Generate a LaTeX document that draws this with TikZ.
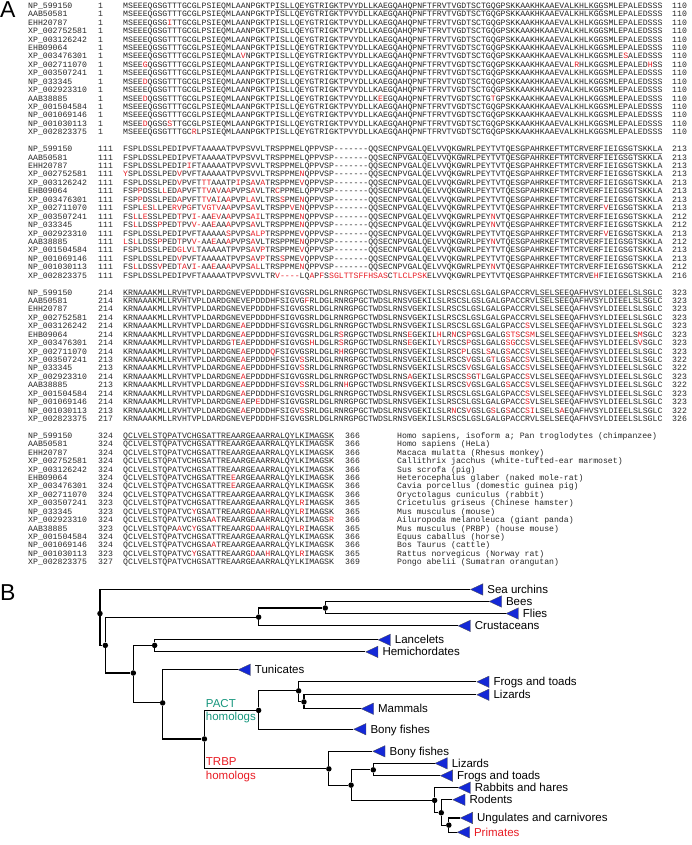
\documentclass[tikz,border=0pt]{standalone}
\usepackage{fontspec}
\setmainfont{Liberation Sans}
\setmonofont{Liberation Mono}
\usepackage{tikz}
\usetikzlibrary{positioning, shapes.geometric}
\definecolor{mutred}{RGB}{232,28,36}
\definecolor{seqgray}{RGB}{38,38,38}
\definecolor{cladeblue}{RGB}{20,40,215}
\definecolor{pactgreen}{RGB}{22,150,125}
\tikzset{
    seqtxt/.style={anchor=base west, inner sep=0pt, text=seqgray, font=\ttfamily\fontsize{8.17}{9}\selectfont},
    dsrbd/.style={draw=black!45, line width=0.6pt},
    panellbl/.style={anchor=base west, inner sep=0pt, font=\fontsize{23}{23}\selectfont},
    branch/.style={draw=black, line width=1.1pt},
    cdot/.style={circle, fill=black, inner sep=0pt, minimum size=5.5pt},
    clade/.style={isosceles triangle, isosceles triangle apex angle=50, shape border rotate=180, anchor=apex, fill=cladeblue, draw=black!70, line width=0.3pt, inner sep=0pt, minimum height=11.5pt, minimum width=11.5pt},
    cladelbl/.style={anchor=west, inner sep=0pt, text height=9.9pt, text depth=2.3pt, font=\fontsize{11.5}{12}\selectfont},
    homlbl/.style={cladelbl, anchor=west}
}
\newcommand\rd[1]{\textcolor{mutred}{#1}}
\newcommand\gapA{-{}-{}-{}-{}-{}-{}-}
\newcommand\consA{MSEEEQGSGTTTGCGLPSIEQMLAANPGKTPISLLQEYGTRIGKTPVYDLLKAEGQAHQPNFTFRVTVGDTSCTGQGPSKKAAKHKAAEVALKHLKGGSMLEPALEDSSS}
\newcommand\consBl{FSPLDSSLPEDIPVFTAAAAATPVPSVVLTRSPPMELQPPVSP}
\newcommand\consBr{QQSECNPVGALQELVVQKGWRLPEYTVTQESGPAHRKEFTMTCRVERFIEIGSGTSKKLA}
\newcommand\consBrN{QQSECNPVGALQELVVQKGWRLPEY\rd{N}VTQESGPAHRKEFTMTCRVERFIEIGSGTSKKLA}
\newcommand\consBrV{QQSECNPVGALQELVVQKGWRLPEYTVTQESGPAHRKEFTMTCRVERF\rd{V}EIGSGTSKKLA}
\newcommand\consC{KRNAAAKMLLRVHTVPLDARDGNEVEPDDDHFSIGVGSRLDGLRNRGPGCTWDSLRNSVGEKILSLRSCSLGSLGALGPACCRVLSELSEEQAFHVSYLDIEELSLSGLC}
\newcommand\consD{QCLVELSTQPATVCHGSATTREAARGEAARRALQYLKIMAGSK}
% block, row, accession, first, residues, last
\newcommand\alnrow[6]{%
  \pgfmathsetmacro\rowy{5.7+8.43*(17*#1+#2)+2.7}
  \node[seqtxt] (n#1r#2) at (28,\rowy) {#3};
  \node[seqtxt] (s#1r#2) at (98,\rowy) {#4};
  \node[seqtxt] (q#1r#2) at (123,\rowy) {#5};
  \ifnum#1=3 \node[seqtxt] (e#1r#2) at (345,\rowy) {#6};
  \else \node[seqtxt] (e#1r#2) at (672,\rowy) {#6};\fi}
\newcommand\sprow[2]{%
  \pgfmathsetmacro\rowy{5.7+8.43*(51+#1)+2.7}
  \node[seqtxt] (sp#1) at (397,\rowy) {#2};}

\begin{document}
\begin{tikzpicture}[x=1pt, y=-1pt]
    \useasboundingbox (0,0) rectangle (691,845);
    \node[panellbl] (lblA) at (0,18) {A};
    \node[panellbl] (lblB) at (0,600) {B};

    % residues 1-110
    \alnrow{0}{0}{NP\_599150}{1}{\consA}{110}
    \alnrow{0}{1}{AAB50581}{1}{\consA}{110}
    \alnrow{0}{2}{EHH20787}{1}{MSEEEQGSG\rd{I}TTGCGLPSIEQMLAANPGKTPISLLQEYGTRIGKTPVYDLLKAEGQAHQPNFTFRVTVGDTSCTGQGPSKKAAKHKAAEVALKHLKGGSMLEPALEDSSS}{110}
    \alnrow{0}{3}{XP\_002752581}{1}{\consA}{110}
    \alnrow{0}{4}{XP\_003126242}{1}{\consA}{110}
    \alnrow{0}{5}{EHB09064}{1}{\consA}{110}
    \alnrow{0}{6}{XP\_003476301}{1}{MSEEEQGSGTTTGCGLPSIEQMLA\rd{V}NPGKTPISLLQEYGTRIGKTPVYDLLKAEGQAHQPNFTFRVTVGDTSCTGQGPSKKAAKHKAAEVALKHLKGGSMLE\rd{S}ALEDSSS}{110}
    \alnrow{0}{7}{XP\_002711070}{1}{MSEE\rd{G}QGSGTTTGCGLPSIEQMLAANPGKTPISLLQEYGTRIGKTPVYDLLKAEGQAHQPNFTFRVTVGDTSCTGQGPSKKAAKHKAAEVAL\rd{R}HLKGGSMLEPALED\rd{H}SS}{110}
    \alnrow{0}{8}{XP\_003507241}{1}{\consA}{110}
    \alnrow{0}{9}{NP\_033345}{1}{MSEE\rd{D}QGSGTTTGCGLPSIEQMLAANPGKTPISLLQEYGTRIGKTPVYDLLKAEGQAHQPNFTFRVTVGDTSCTGQGPSKKAAKHKAAEVALKHLKGGSMLEPALEDSSS}{110}
    \alnrow{0}{10}{XP\_002923310}{1}{\consA}{110}
    \alnrow{0}{11}{AAB38885}{1}{MSEE\rd{D}QGSGTTTGCGLPSIEQMLAANPGKTPISLLQEYGTRIGKTPVYDLLK\rd{E}EGQAHQPNFTFRVTVGDTSCTG\rd{T}GPSKKAAKHKAAEVALKHLKGGSMLEPALEDSSS}{110}
    \alnrow{0}{12}{XP\_001504584}{1}{\consA}{110}
    \alnrow{0}{13}{NP\_001069146}{1}{\consA}{110}
    \alnrow{0}{14}{NP\_001030113}{1}{MSEE\rd{D}QGSG\rd{S}TTGCGLPSIEQMLAANPGKTPISLLQEYGTRIGKTPVYDLLKAEGQAHQPNFTFRVTVGDTSCTGQGPSKKAAKHKAAEVALKHLKGGSMLEPALEDSSS}{110}
    \alnrow{0}{15}{XP\_002823375}{1}{MSEEEQGSGTTTGC\rd{R}LPSIEQMLAANPGKTPISLLQEYGTRIGKTPVYDLLKAEGQAHQPNFTFRVTVGDTSCTGQGPSKKAAKHKAAEVALKHLKGGSMLEPALEDSSS}{110}

    % residues 111-216
    \alnrow{1}{0}{NP\_599150}{111}{\consBl\gapA\consBr}{213}
    \alnrow{1}{1}{AAB50581}{111}{\consBl\gapA\consBr}{213}
    \alnrow{1}{2}{EHH20787}{111}{FSPLDSSLPEDIP\rd{I}FTAAAAATPVPSVVLTRSPPMELQPPVSP\gapA\consBr}{213}
    \alnrow{1}{3}{XP\_002752581}{111}{\rd{Y}SPLDSSLPED\rd{V}PVFTAAAAATPVPSVVLTRSPPME\rd{N}QPPVSP\gapA\consBr}{213}
    \alnrow{1}{4}{XP\_003126242}{111}{FSPLDSSLPED\rd{V}PVFT\rd{TT}AAATP\rd{I}PS\rd{A}V\rd{A}TRSPPME\rd{V}QPPVSP\gapA\consBr}{213}
    \alnrow{1}{5}{EHB09064}{111}{FSP\rd{P}DSSL\rd{L}ED\rd{A}PVFT\rd{TV}A\rd{V}A\rd{A}PVPS\rd{A}VLTR\rd{C}PPMELQPPVSP\gapA\consBr}{213}
    \alnrow{1}{6}{XP\_003476301}{111}{FSP\rd{P}DSSLPED\rd{A}PVFT\rd{TV}A\rd{I}A\rd{A}PVP\rd{LA}VLTRS\rd{S}PME\rd{N}QPPVSP\gapA\consBr}{213}
    \alnrow{1}{7}{XP\_002711070}{111}{FSPL\rd{E}S\rd{L}LPE\rd{RV}P\rd{G}FT\rd{VGTV}A\rd{A}PVPS\rd{A}VLTRSPP\rd{V}E\rd{N}QPPVSP\gapA\consBrV}{213}
    \alnrow{1}{8}{XP\_003507241}{111}{FS\rd{L}L\rd{E}SSLPED\rd{T}PV\rd{I-}AA\rd{EV}A\rd{A}PVPS\rd{AI}LTRSPPME\rd{N}QPPVSP\gapA\consBrN}{212}
    \alnrow{1}{9}{NP\_033345}{111}{FS\rd{L}LDSS\rd{P}PED\rd{T}PV\rd{V-}AA\rd{E}AA\rd{A}PVPS\rd{A}VLTRSPPME\rd{N}QPPVSP\gapA\consBrN}{212}
    \alnrow{1}{10}{XP\_002923310}{111}{FSPLDSSLPEDIPVFTAAAAA\rd{S}PVPS\rd{ALP}TRSPPME\rd{V}QPPVSP\gapA\consBrV}{213}
    \alnrow{1}{11}{AAB38885}{111}{\rd{L}S\rd{L}LDSS\rd{P}PED\rd{T}PV\rd{V-}AA\rd{E}AA\rd{A}PVPS\rd{A}VLTRSPPME\rd{N}QPPVSP\gapA\consBrN}{212}
    \alnrow{1}{12}{XP\_001504584}{111}{FSPLDSSLPED\rd{GL}V\rd{L}TAAAAATPVPS\rd{A}V\rd{P}TRSPPME\rd{V}QPPVSP\gapA\consBr}{213}
    \alnrow{1}{13}{NP\_001069146}{111}{FSPLDSSLPED\rd{V}PVFTAAAAATPVPS\rd{A}V\rd{P}TRS\rd{S}PME\rd{V}QPPVSP\gapA\consBr}{213}
    \alnrow{1}{14}{NP\_001030113}{111}{FS\rd{L}LDSS\rd{V}PED\rd{TA}V\rd{I-}AA\rd{E}AA\rd{A}PVPS\rd{AL}LTRSPPME\rd{N}QPPVSP\gapA\consBrN}{212}
    \alnrow{1}{15}{XP\_002823375}{111}{FSPLDSSLPEDIPVFTAAAAATPVPSVVLTR\rd{V-{}-{}-{}-}LQ\rd{A}P\rd{F}S\rd{SGLTTSFFHSAS}C\rd{TLCLPSK}ELVVQKGWRLPEYTVTQESGPAHRKEFTMTCRVE\rd{H}FIEIGSGTSKKLA}{216}

    % residues 214-326
    \alnrow{2}{0}{NP\_599150}{214}{\consC}{323}
    \alnrow{2}{1}{AAB50581}{214}{KRNAAAKMLLRVHTVPLDARDGNEVEPDDDHFSIGVG\rd{F}RLDGLRNRGPGCTWDSLRNSVGEKILSLRSCSLGSLGALGPACCRVLSELSEEQAFHVSYLDIEELSLSGLC}{323}
    \alnrow{2}{2}{EHH20787}{214}{\consC}{323}
    \alnrow{2}{3}{XP\_002752581}{214}{\consC}{323}
    \alnrow{2}{4}{XP\_003126242}{214}{KRNAAAKMLLRVHTVPLDARDGNE\rd{A}EPDDDHFSIGVGSRLDGLRNRGPGCTWDSLRNSVGEKILSLRSCSLGSLGALGPACC\rd{S}VLSELSEEQAFHVSYLDIEELSLSGLC}{323}
    \alnrow{2}{5}{EHB09064}{214}{KRNAAAKMLLRVHTVPLDARDGNE\rd{A}EPDDDHFSIGVGSRLDGLR\rd{S}RGPGCTWDSLRNS\rd{E}GEKIL\rd{H}LR\rd{N}CS\rd{P}GSLGALG\rd{STS}C\rd{SM}LSELSEEQAFHVSYLDIEELS\rd{M}SGLC}{323}
    \alnrow{2}{6}{XP\_003476301}{214}{KRNAAAKMLLRVHTVPLDARDG\rd{T}E\rd{A}EPDDDHFSIGVGS\rd{H}LDGLR\rd{S}RGPGCTWDSLRNS\rd{E}GEKIL\rd{Y}LRSCS\rd{P}GSLGALG\rd{SG}CC\rd{S}VLSELSEEQAFHVSYLDIEELS\rd{V}SGLC}{323}
    \alnrow{2}{7}{XP\_002711070}{214}{KRNAAAKMLLRVHTVPLDARDGNE\rd{A}EPDDD\rd{Q}FSIGVGSRLDGLR\rd{H}RGPGCTWDSLRNSVGEKILSLRSC\rd{P}LGSL\rd{S}ALG\rd{S}ACC\rd{S}VLSELSEEQAFHVSYLDIEELSLSGLC}{323}
    \alnrow{2}{8}{XP\_003507241}{213}{KRNAAAKMLLRVHTVPLDARDGNE\rd{A}EPDDDHFSIGV\rd{S}SRLDGLRNRGPGCTWDSLRNSVGEKILSLRSCS\rd{V}GSLG\rd{T}LG\rd{S}ACC\rd{S}VLSELSEEQAFHVSYLDIEELSLSGLC}{322}
    \alnrow{2}{9}{NP\_033345}{213}{KRNAAAKMLLRVHTVPLDARDGNE\rd{A}EPDDDHFSIGV\rd{S}SRLDGLRNRGPGCTWDSLRNSVGEKILSLRSCS\rd{V}GSLGALG\rd{S}ACC\rd{S}VLSELSEEQAFHVSYLDIEELSLSGLC}{322}
    \alnrow{2}{10}{XP\_002923310}{214}{KRNAAAKMLLRVHTVPLDARDGNE\rd{A}EPDDDHFSIGVGSRLDGLRNRGPGCTWDSLRNS\rd{A}GEKILSLRSCS\rd{S}G\rd{T}LGALGPACC\rd{S}VLSELSEEQAFHVSYLDIEELSLSGLC}{323}
    \alnrow{2}{11}{AAB38885}{213}{KRNAAAKMLLRVHTVPLDARDGNE\rd{A}EPDDDHFSIGV\rd{S}SRLDGLRN\rd{H}GPGCTWDSLRNSVGEKILSLRSCS\rd{V}GSLGALG\rd{S}ACC\rd{S}VLSELSEEQAFHVSYLDIEELSLSGLC}{322}
    \alnrow{2}{12}{XP\_001504584}{214}{KRNAAAKMLLRVHTVPLDARDGNE\rd{A}EPDDDHFSIGVGSRLDGLRNRGPGCTWDSLRNSVGEKILSLRSCSLGSLGALGPACC\rd{S}VLSELSEEQAFHVSYLDIEELSLSGLC}{323}
    \alnrow{2}{13}{NP\_001069146}{214}{KRNAAAKMLLRVHTVPLDARDGNE\rd{A}EP\rd{E}DDHFSIGVGSRLDGLRNRGPGCTWDSLRNSVGEKILSLRSCSLGSLGALGPACC\rd{S}VLSELSEEQAFHVSYLDIEELSLSGLC}{323}
    \alnrow{2}{14}{NP\_001030113}{213}{KRNAAAKMLLRVHTVPLDARDGNE\rd{A}EPDDDHFSIGV\rd{S}SRLDGLRNRGPGCTWDSLRNSVGEKILSLR\rd{N}CS\rd{V}GSLG\rd{S}LG\rd{S}ACC\rd{SI}LSELS\rd{A}EQAFHVSYLDIEELSLSGLC}{322}
    \alnrow{2}{15}{XP\_002823375}{217}{\consC}{326}

    % residues 323-369
    \alnrow{3}{0}{NP\_599150}{324}{\consD}{366}
    \alnrow{3}{1}{AAB50581}{324}{\consD}{366}
    \alnrow{3}{2}{EHH20787}{324}{\consD}{366}
    \alnrow{3}{3}{XP\_002752581}{324}{\consD}{366}
    \alnrow{3}{4}{XP\_003126242}{324}{\consD}{366}
    \alnrow{3}{5}{EHB09064}{324}{QCLVELSTQPATVCHGSATTRE\rd{E}ARGEAARRALQYLKIMAGSK}{366}
    \alnrow{3}{6}{XP\_003476301}{324}{QCLVELSTQPATVCHGSATTRE\rd{E}ARGEAARRALQYLKIMAGSK}{366}
    \alnrow{3}{7}{XP\_002711070}{324}{\consD}{366}
    \alnrow{3}{8}{XP\_003507241}{323}{QCLVELSTQPATVCHGSATTREAARGEAARRALQYL\rd{R}IMAGSK}{365}
    \alnrow{3}{9}{NP\_033345}{323}{QCLVELSTQPATVC\rd{Y}GSATTREAARG\rd{D}AA\rd{H}RALQYL\rd{R}IMAGSK}{365}
    \alnrow{3}{10}{XP\_002923310}{324}{QCLVELSTQPATVCHGSA\rd{A}TREAARGEAARRALQYLKIMAGS\rd{R}}{366}
    \alnrow{3}{11}{AAB38885}{323}{QCLVELSTQPA\rd{A}VC\rd{Y}GSATTREAARG\rd{D}AA\rd{H}RALQYL\rd{R}IMAGSK}{365}
    \alnrow{3}{12}{XP\_001504584}{324}{\consD}{366}
    \alnrow{3}{13}{NP\_001069146}{324}{QCLVELSTQPATVCHGSA\rd{A}TREAARGEAARRALQYLKIMAGSK}{366}
    \alnrow{3}{14}{NP\_001030113}{323}{QCLVELSTQPATVC\rd{Y}GSATTREAARG\rd{D}AA\rd{H}RALQYL\rd{R}IMAGSK}{365}
    \alnrow{3}{15}{XP\_002823375}{327}{\consD}{369}

    \sprow{0}{Homo sapiens, isoform a; Pan troglodytes (chimpanzee)}
    \sprow{1}{Homo sapiens (HeLa)}
    \sprow{2}{Macaca mulatta (Rhesus monkey)}
    \sprow{3}{Callithrix jacchus (white-tufted-ear marmoset)}
    \sprow{4}{Sus scrofa (pig)}
    \sprow{5}{Heterocephalus glaber (naked mole-rat)}
    \sprow{6}{Cavia porcellus (domestic guinea pig)}
    \sprow{7}{Oryctolagus cuniculus (rabbit)}
    \sprow{8}{Cricetulus griseus (Chinese hamster)}
    \sprow{9}{Mus musculus (mouse)}
    \sprow{10}{Ailuropoda melanoleuca (giant panda)}
    \sprow{11}{Mus musculus (PRBP) (house mouse)}
    \sprow{12}{Equus caballus (horse)}
    \sprow{13}{Bos Taurus (cattle)}
    \sprow{14}{Rattus norvegicus (Norway rat)}
    \sprow{15}{Pongo abelii (Sumatran orangutan)}

    % dsRBD underlines on the reference row
    \draw[dsrbd] (274.9,9.8) -- (603.2,9.8);
    \draw[dsrbd] (392.5,153.1) -- (662,153.1);
    \draw[dsrbd] (123,296.4) -- (186.7,296.4);
    \draw[dsrbd] (534.6,296.4) -- (662,296.4);
    \draw[dsrbd] (123,439.7) -- (333.7,439.7);

    % tree
    \begin{scope}[shift={(0,556)}, x=0.4444pt, y=-0.325pt]
        \node[cdot] (root) at (225,177) {};
        \node[cdot] (bilat) at (237,275) {};
        \node[cdot] (arthr) at (582,188) {};
        \node[cdot] (insect) at (732,160) {};
        \node[cdot] (chord) at (300,360) {};
        \node[cdot] (lanhem) at (348,275) {};
        \node[cdot] (olfac) at (366,452) {};
        \node[cdot] (vert) at (460,563) {};
        \node[cdot] (pact) at (582,475) {};
        \node[cdot] (tetP) at (672,415) {};
        \node[cdot] (amnP) at (684,449) {};
        \node[cdot] (trbp) at (740,655) {};
        \node[cdot] (tetT) at (790,705) {};
        \node[cdot] (ampT) at (840,658) {};
        \node[cdot] (mamT) at (978,752) {};
        \node[cdot] (rodT) at (993,790) {};
        \node[cdot] (priT) at (1010,828) {};

        \node[clade] (seaurch) at (1058,103) {};
        \node[clade] (bees) at (1100,140) {};
        \node[clade] (flies) at (1138,177) {};
        \node[clade] (crust) at (1030,215) {};
        \node[clade] (lancel) at (850,258) {};
        \node[clade] (hemich) at (822,295) {};
        \node[clade] (tunic) at (535,350) {};
        \node[clade] (frogP) at (1072,387) {};
        \node[clade] (lizP) at (1072,427) {};
        \node[clade] (mammP) at (812,470) {};
        \node[clade] (fishP) at (795,533) {};
        \node[clade] (fishT) at (838,601) {};
        \node[clade] (lizT) at (978,638) {};
        \node[clade] (frogT) at (990,676) {};
        \node[clade] (rabbT) at (1030,713) {};
        \node[clade] (rodT2) at (1018,750) {};
        \node[clade] (ungT) at (1035,806) {};
        \node[clade] (primT) at (1028,850) {};

        \node[cladelbl, right=17pt of seaurch.apex] {Sea urchins};
        \node[cladelbl, right=17pt of bees.apex] {Bees};
        \node[cladelbl, right=17pt of flies.apex] {Flies};
        \node[cladelbl, right=17pt of crust.apex] {Crustaceans};
        \node[cladelbl, right=17pt of lancel.apex] {Lancelets};
        \node[cladelbl, right=17pt of hemich.apex] {Hemichordates};
        \node[cladelbl, right=17pt of tunic.apex] {Tunicates};
        \node[cladelbl, right=17pt of frogP.apex] {Frogs and toads};
        \node[cladelbl, right=17pt of lizP.apex] {Lizards};
        \node[cladelbl, right=17pt of mammP.apex] {Mammals};
        \node[cladelbl, right=17pt of fishP.apex] {Bony fishes};
        \node[cladelbl, right=17pt of fishT.apex] {Bony fishes};
        \node[cladelbl, right=17pt of lizT.apex] {Lizards};
        \node[cladelbl, right=17pt of frogT.apex] {Frogs and toads};
        \node[cladelbl, right=17pt of rabbT.apex] {Rabbits and hares};
        \node[cladelbl, right=17pt of rodT2.apex] {Rodents};
        \node[cladelbl, right=17pt of ungT.apex] {Ungulates and carnivores};
        \node[cladelbl, right=17pt of primT.apex, text=mutred] {Primates};

        \node[homlbl, text=pactgreen] (pactA) at (463,453) {PACT};
        \node[homlbl, text=pactgreen] (pactB) at (463,495) {homologs};
        \node[homlbl, text=mutred] (trbpA) at (463,632) {TRBP};
        \node[homlbl, text=mutred] (trbpB) at (463,675) {homologs};

        \draw[branch] (root) |- (seaurch);
        \draw[branch] (root) |- (bilat);
        \draw[branch] (bilat) |- (arthr);
        \draw[branch] (bilat) |- (chord);
        \draw[branch] (arthr) |- (insect);
        \draw[branch] (arthr) |- (crust);
        \draw[branch] (insect) |- (bees);
        \draw[branch] (insect) |- (flies);
        \draw[branch] (chord) |- (lanhem);
        \draw[branch] (chord) |- (olfac);
        \draw[branch] (lanhem) |- (lancel);
        \draw[branch] (lanhem) |- (hemich);
        \draw[branch] (olfac) |- (tunic);
        \draw[branch] (olfac) |- (vert);
        \draw[branch] (vert) |- (pact);
        \draw[branch] (vert) |- (trbp);
        \draw[branch] (pact) |- (tetP);
        \draw[branch] (pact) |- (fishP);
        \draw[branch] (tetP) |- (frogP);
        \draw[branch] (tetP) |- (amnP);
        \draw[branch] (amnP) |- (lizP);
        \draw[branch] (amnP) |- (mammP);
        \draw[branch] (trbp) |- (fishT);
        \draw[branch] (trbp) |- (tetT);
        \draw[branch] (tetT) |- (ampT);
        \draw[branch] (tetT) |- (mamT);
        \draw[branch] (ampT) |- (lizT);
        \draw[branch] (ampT) |- (frogT);
        \draw[branch] (mamT) |- (rabbT);
        \draw[branch] (mamT) |- (rodT);
        \draw[branch] (rodT) |- (rodT2);
        \draw[branch] (rodT) |- (priT);
        \draw[branch] (priT) |- (ungT);
        \draw[branch] (priT) |- (primT);
    \end{scope}
\end{tikzpicture}
\end{document}
